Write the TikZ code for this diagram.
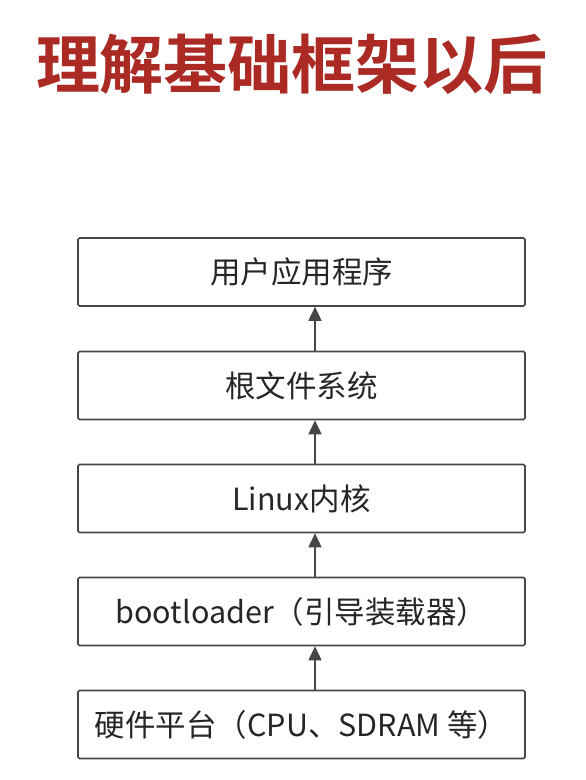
\documentclass[tikz,border=0pt]{standalone}
\usepackage{fontspec}
\usepackage{xcolor}
\usepackage{tikz}
\usetikzlibrary{arrows.meta}
\newfontfamily\cjk{Noto Sans CJK SC}
\newfontfamily\cjkbold{Noto Sans CJK SC Bold}
\definecolor{titlered}{RGB}{172,42,36}
\definecolor{boxline}{RGB}{70,70,70}

\begin{document}
\begin{tikzpicture}[x=1pt,y=-1pt,
    layer/.style={draw=boxline, line width=1.6pt, rounded corners=1.5pt,
        minimum width=447pt, minimum height=68pt, inner sep=0pt,
        font=\cjk\fontsize{30.5}{33}\selectfont, text=black!85},
    up/.style={draw=boxline, line width=1.6pt, -{Triangle[length=14pt,width=13pt]}}]
    \useasboundingbox (0,0) rectangle (586,780);

    \coordinate (T) at (292, 64);
    \coordinate (L1) at (301.5, 272);
    \coordinate (L2) at (301.5, 385.5);
    \coordinate (L3) at (301.5, 498.5);
    \coordinate (L4) at (301.5, 611.5);
    \coordinate (L5) at (301.5, 724.5);
    \coordinate (AX) at (315, 0);

%labels
    \node (title) at (T) {\cjkbold\fontsize{64}{70}\selectfont\color{titlered}理解基础框架以后};
    \node[layer] (app) at (L1) {用户应用程序};
    \node[layer] (rootfs) at (L2) {根文件系统};
    \node[layer] (kernel) at (L3) {Linux内核};
    \node[layer] (boot) at (L4) {bootloader（引导装载器）};
    \node[layer] (hw) at (L5) {硬件平台（CPU、SDRAM 等）};

    \draw[up] (hw.north -| AX) -- (boot.south -| AX);
    \draw[up] (boot.north -| AX) -- (kernel.south -| AX);
    \draw[up] (kernel.north -| AX) -- (rootfs.south -| AX);
    \draw[up] (rootfs.north -| AX) -- (app.south -| AX);

\end{tikzpicture}
\end{document}
